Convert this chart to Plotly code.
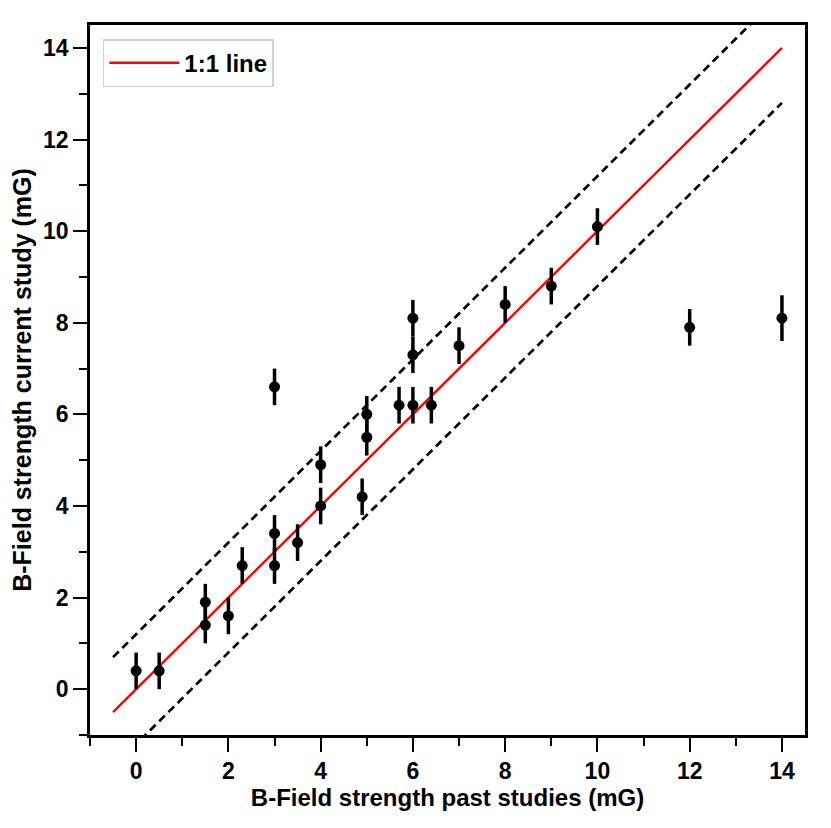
import plotly.graph_objects as go

past = [0, 0.5, 1.5, 1.5, 2, 2.3, 3, 3, 3, 3.5, 4, 4, 4.9, 5, 5, 5.7, 6, 6, 6, 6.4, 7, 8, 9, 10, 12, 14]
current = [0.4, 0.4, 1.9, 1.4, 1.6, 2.7, 6.6, 3.4, 2.7, 3.2, 4.9, 4.0, 4.2, 6.0, 5.5, 6.2, 8.1, 7.3, 6.2, 6.2, 7.5, 8.4, 8.8, 10.1, 7.9, 8.1]
err = [0.4] * 25 + [0.5]

line_x = [-0.5, 14]
one_to_one = [-0.5, 14]
upper = [0.7, 15.2]
lower = [-1.7, 12.8]

font_family = "Liberation Sans"

fig = go.Figure()
fig.add_trace(go.Scatter(x=line_x, y=upper, mode="lines", showlegend=False,
                         line=dict(color="black", width=2.7, dash="8px,5px")))
fig.add_trace(go.Scatter(x=line_x, y=lower, mode="lines", showlegend=False,
                         line=dict(color="black", width=2.7, dash="8px,5px")))
fig.add_trace(go.Scatter(x=line_x, y=one_to_one, mode="lines", name="1:1 line",
                         line=dict(color="red", width=2.4)))
fig.add_trace(go.Scatter(x=past, y=current, mode="markers", showlegend=False,
                         marker=dict(color="black", size=11),
                         error_y=dict(type="data", array=err, color="black", thickness=3.5, width=0)))

axis_common = dict(
    showgrid=False, zeroline=False, showline=True, linecolor="black", linewidth=2.5,
    mirror=True, ticks="outside", ticklen=14, tickwidth=2, tickcolor="black",
    tickfont=dict(family=font_family, size=23, color="black", weight="bold"),
    dtick=2, tick0=0, automargin=False,
    minor=dict(ticks="outside", ticklen=8, tickwidth=2, tickcolor="black", dtick=1, tick0=1, showgrid=False),
)

fig.update_layout(
    width=831, height=828,
    margin=dict(l=82, r=34, t=17, b=101),
    plot_bgcolor="white", paper_bgcolor="white",
    font=dict(family=font_family, color="black"),
    xaxis=dict(range=[-1, 14.5], title=dict(text="B-Field strength past studies (mG)",
               font=dict(family=font_family, size=24, weight="bold"), standoff=6), **axis_common),
    yaxis=dict(range=[-1, 14.5], title=dict(text="B-Field strength current study (mG)",
               font=dict(family=font_family, size=25, weight="bold"), standoff=10), **axis_common),
    legend=dict(x=0.018, y=0.98, xanchor="left", yanchor="top",
                bgcolor="rgba(255,255,255,0.9)", bordercolor="#d0d0d0", borderwidth=1.5,
                font=dict(family=font_family, size=24, weight="bold"), itemwidth=70),
)

fig.write_html("out.html")
